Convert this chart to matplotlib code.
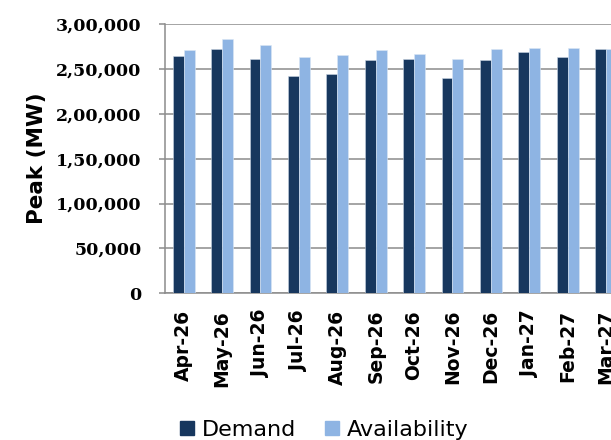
import matplotlib
matplotlib.use('Agg')
import numpy as np
from matplotlib import pyplot as plt
from matplotlib.ticker import FuncFormatter
from matplotlib.patches import Patch

months = ['Apr-26', 'May-26', 'Jun-26', 'Jul-26', 'Aug-26', 'Sep-26',
          'Oct-26', 'Nov-26', 'Dec-26', 'Jan-27', 'Feb-27', 'Mar-27']
demand = [264000, 271800, 260700, 242400, 244600, 259600,
          260700, 240200, 260300, 268500, 263600, 271800]
availability = [270700, 283000, 276600, 262900, 265100, 270700,
                266900, 260700, 272500, 272900, 273600, 272500]
yticks = [0, 50000, 100000, 150000, 200000, 250000, 300000]


def indian(v, pos=None):
    # lakh style grouping: 2,50,000
    v = int(round(v))
    s = str(v)
    if len(s) <= 3:
        return s
    last3 = s[-3:]
    rest = s[:-3]
    parts = []
    while len(rest) > 2:
        parts.insert(0, rest[-2:])
        rest = rest[:-2]
    if rest:
        parts.insert(0, rest)
    return ','.join(parts) + ',' + last3


fig = plt.figure(figsize=(6.11, 4.40), dpi=100)
# axes run past the right edge, as in the reference crop
ax = fig.add_axes([164.5 / 611, 146.7 / 440, 460.8 / 611, 269.3 / 440])

x = np.arange(len(months))
w = 0.286
ax.bar(x - w / 2, demand, w, color='#17375E', edgecolor='#c8d4e3',
       linewidth=0.4, zorder=3)
ax.bar(x + w / 2, availability, w, color='#8EB4E3', edgecolor='#dbe7f5',
       linewidth=0.4, zorder=3)

ax.set_xlim(-0.5, len(months) - 0.5)
ax.set_ylim(0, 300000)
ax.set_yticks(yticks)
ax.yaxis.set_major_formatter(FuncFormatter(indian))
ax.set_xticks(x)
ax.set_xticklabels(months, rotation=90, fontsize=13.5, fontweight='bold',
                   family='DejaVu Sans')
for lab in ax.get_yticklabels():
    lab.set_family('DejaVu Serif')
    lab.set_fontweight('bold')
    lab.set_fontsize(12.5)

ax.grid(axis='y', color='#8c8c8c', linewidth=1.1, zorder=0)
for s in ['top', 'right']:
    ax.spines[s].set_visible(False)
for s in ['left', 'bottom']:
    ax.spines[s].set_color('#8c8c8c')
    ax.spines[s].set_linewidth(1.1)
ax.tick_params(axis='y', length=4.5, width=1.1, color='#8c8c8c', pad=12)
ax.tick_params(axis='x', length=0, pad=12)

ax.set_ylabel('Peak (MW)', fontsize=15.5, fontweight='bold')
ax.yaxis.set_label_coords(-0.255, 0.5)

handles = [Patch(color='#17375E', label='Demand'),
           Patch(color='#8EB4E3', label='Availability')]
fig.legend(handles=handles, loc='center', bbox_to_anchor=(0.531, 0.023),
           ncol=2, frameon=False, fontsize=16, handlelength=0.63,
           handleheight=0.63, handletextpad=0.35, columnspacing=1.3)

fig.savefig('out.png', dpi=100)
